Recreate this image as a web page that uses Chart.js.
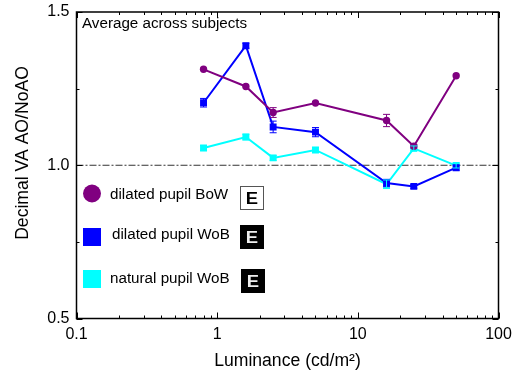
<!DOCTYPE html>
<html><head><meta charset="utf-8">
<style>html,body{margin:0;padding:0;background:#fff}#w{width:514px;height:374px;position:relative}</style>
<script src="https://cdn.jsdelivr.net/npm/chart.js@4"></script>
</head><body><div id="w"><canvas id="c" width="514" height="374"></canvas></div>
<script>
const luminance = [0.8, 1.6, 2.5, 5, 16, 25, 50];
const dilatedBoW = [1.313, 1.257, 1.172, 1.203, 1.146, 1.062, 1.292];
const dilatedBoWErr = [0, 0, 0.016, 0, 0.02, 0.006, 0];
const dilatedWoB = [1.204, 1.39, 1.125, 1.108, 0.942, 0.931, 0.992];
const dilatedWoBErr = [0.014, 0.008, 0.019, 0.015, 0.012, 0.006, 0.008];
const naturalWoB = [1.056, 1.092, 1.024, 1.05, 0.938, 1.055, 0.999];
const naturalWoBErr = [0.008, 0.009, 0.008, 0.008, 0.014, 0.008, 0.008];
const referenceX = [0.1, 100];
const referenceY = [1, 1];
const xLabels = [0.1, 1, 10, 100];
const yLabels = [0.5, 1, 1.5];
const yMinor = [0.75, 1.25];
const note = 'Average across subjects';
const yTitle = 'Decimal VA AO/NoAO';
const FONT = '"Liberation Sans", Arial, sans-serif';
const PURPLE = '#800080', BLUE = '#0000ff', CYAN = '#00ffff';

const pts = (xs, ys) => xs.map((x, i) => ({x, y: ys[i]}));
const series = (label, ys, color, style, radius, errs) => ({
  label, data: pts(luminance, ys), errs, borderColor: color, backgroundColor: color,
  pointStyle: style, pointRadius: radius, pointBorderWidth: 0, borderWidth: 2, tension: 0, order: 1
});

const frame = {
  id: 'frame',
  afterDatasetsDraw(chart) {
    const {ctx, chartArea: a, scales: {x, y}} = chart;
    ctx.save();
    chart.data.datasets.forEach(ds => {
      if (!ds.errs) return;
      ctx.strokeStyle = ds.borderColor; ctx.lineWidth = 1;
      ds.data.forEach((p, i) => {
        const e = ds.errs[i]; if (!e) return;
        const px = x.getPixelForValue(p.x), t = y.getPixelForValue(p.y + e), b = y.getPixelForValue(p.y - e);
        ctx.beginPath();
        ctx.moveTo(px, t); ctx.lineTo(px, b);
        ctx.moveTo(px - 3.5, t); ctx.lineTo(px + 3.5, t);
        ctx.moveTo(px - 3.5, b); ctx.lineTo(px + 3.5, b);
        ctx.stroke();
      });
    });
    ctx.strokeStyle = '#000'; ctx.lineWidth = 1;
    const minorX = [];
    for (let d = 0.1; d < 99; d *= 10) for (let m = 2; m <= 9; m++) minorX.push(d * m);
    const vt = (v, len) => {
      const p = Math.round(x.getPixelForValue(v)) + 0.5;
      ctx.beginPath();
      ctx.moveTo(p, a.bottom); ctx.lineTo(p, a.bottom - len);
      ctx.moveTo(p, a.top); ctx.lineTo(p, a.top + len);
      ctx.stroke();
    };
    const ht = (v, len) => {
      const p = Math.round(y.getPixelForValue(v)) + 0.5;
      ctx.beginPath();
      ctx.moveTo(a.left, p); ctx.lineTo(a.left + len, p);
      ctx.moveTo(a.right, p); ctx.lineTo(a.right - len, p);
      ctx.stroke();
    };
    minorX.forEach(v => vt(v, 3));
    xLabels.forEach(v => vt(v, 6));
    yMinor.forEach(v => ht(v, 3));
    yLabels.forEach(v => ht(v, 6));
    ctx.lineWidth = 1.5;
    ctx.strokeRect(a.left, a.top, a.right - a.left, a.bottom - a.top);
    ctx.fillStyle = '#000'; ctx.textBaseline = 'alphabetic'; ctx.textAlign = 'left';
    ctx.font = '15.2px ' + FONT;
    ctx.fillText(note, 82, 28);
    const ds = chart.data.datasets;
    ctx.fillText(ds[0].label, 110, 199);
    ctx.fillText(ds[1].label, 112, 239);
    ctx.fillText(ds[2].label, 110, 283);
    ctx.save();
    ctx.font = '17.6px ' + FONT; ctx.textAlign = 'center';
    ctx.translate(28, 153); ctx.rotate(-Math.PI / 2);
    ctx.fillText(yTitle, 0, 0);
    ctx.restore();
    ctx.fillStyle = PURPLE; ctx.beginPath(); ctx.arc(92, 193.5, 9, 0, Math.PI * 2); ctx.fill();
    ctx.fillStyle = BLUE; ctx.fillRect(83, 228, 18, 18);
    ctx.fillStyle = CYAN; ctx.fillRect(83, 270, 18, 18);
    const eBox = (bx, by, dark) => {
      if (dark) { ctx.fillStyle = '#000'; ctx.fillRect(bx, by, 24, 24); }
      else { ctx.strokeStyle = '#555'; ctx.lineWidth = 1; ctx.strokeRect(bx + .5, by + .5, 23, 23); }
      ctx.save();
      ctx.fillStyle = dark ? '#eee' : '#000';
      ctx.font = 'bold 16px ' + FONT; ctx.textAlign = 'center';
      ctx.translate(bx + 12, by + 18);
      ctx.scale(1.15, 1);
      ctx.fillText('E', 0, 0);
      ctx.restore();
    };
    eBox(240, 186, false);
    eBox(240, 225, true);
    eBox(241, 269, true);
    ctx.restore();
  }
};

new Chart(document.getElementById('c'), {
  type: 'line',
  data: {datasets: [
    series('dilated pupil BoW', dilatedBoW, PURPLE, 'circle', 3.7, dilatedBoWErr),
    series('dilated pupil WoB', dilatedWoB, BLUE, 'rect', 4.9, dilatedWoBErr),
    series('natural pupil WoB', naturalWoB, CYAN, 'rect', 4.9, naturalWoBErr),
    {label: 'reference', data: pts(referenceX, referenceY), borderColor: '#333', borderWidth: 1,
     borderDash: [7, 2, 2, 2], pointRadius: 0, order: 2}
  ]},
  plugins: [frame],
  options: {
    responsive: false, animation: false, devicePixelRatio: 1,
    layout: {autoPadding: false, padding: {top: 12, right: 15.5, left: 0, bottom: 0}},
    plugins: {legend: {display: false}, tooltip: {enabled: false}},
    scales: {
      x: {
        type: 'logarithmic', min: 0.1, max: 100,
        afterFit(s) { s.height = 55.5; s.paddingLeft = 0; s.paddingRight = 0; s.paddingTop = 0; s.paddingBottom = 0; },
        grid: {display: false, drawTicks: false}, border: {display: false},
        afterBuildTicks(s) { s.ticks = xLabels.map(v => ({value: v, major: true})); },
        ticks: {autoSkip: false, maxRotation: 0, padding: 6, color: '#000', font: {family: FONT, size: 16},
          callback: v => String(v)},
        title: {display: true, text: 'Luminance (cd/m²)', color: '#000', font: {family: FONT, size: 17.6}, padding: {top: 0, bottom: 2}}
      },
      y: {
        type: 'linear', min: 0.5, max: 1.5,
        afterFit(s) { s.width = 76.5; s.paddingLeft = 0; s.paddingRight = 0; s.paddingTop = 0; s.paddingBottom = 0; },
        grid: {display: false, drawTicks: false}, border: {display: false},
        afterBuildTicks(s) { s.ticks = yLabels.map(v => ({value: v})); },
        ticks: {padding: 7, color: '#000', font: {family: FONT, size: 16}, callback: v => v.toFixed(1)},
        title: {display: false}
      }
    }
  }
});
</script></body></html>
